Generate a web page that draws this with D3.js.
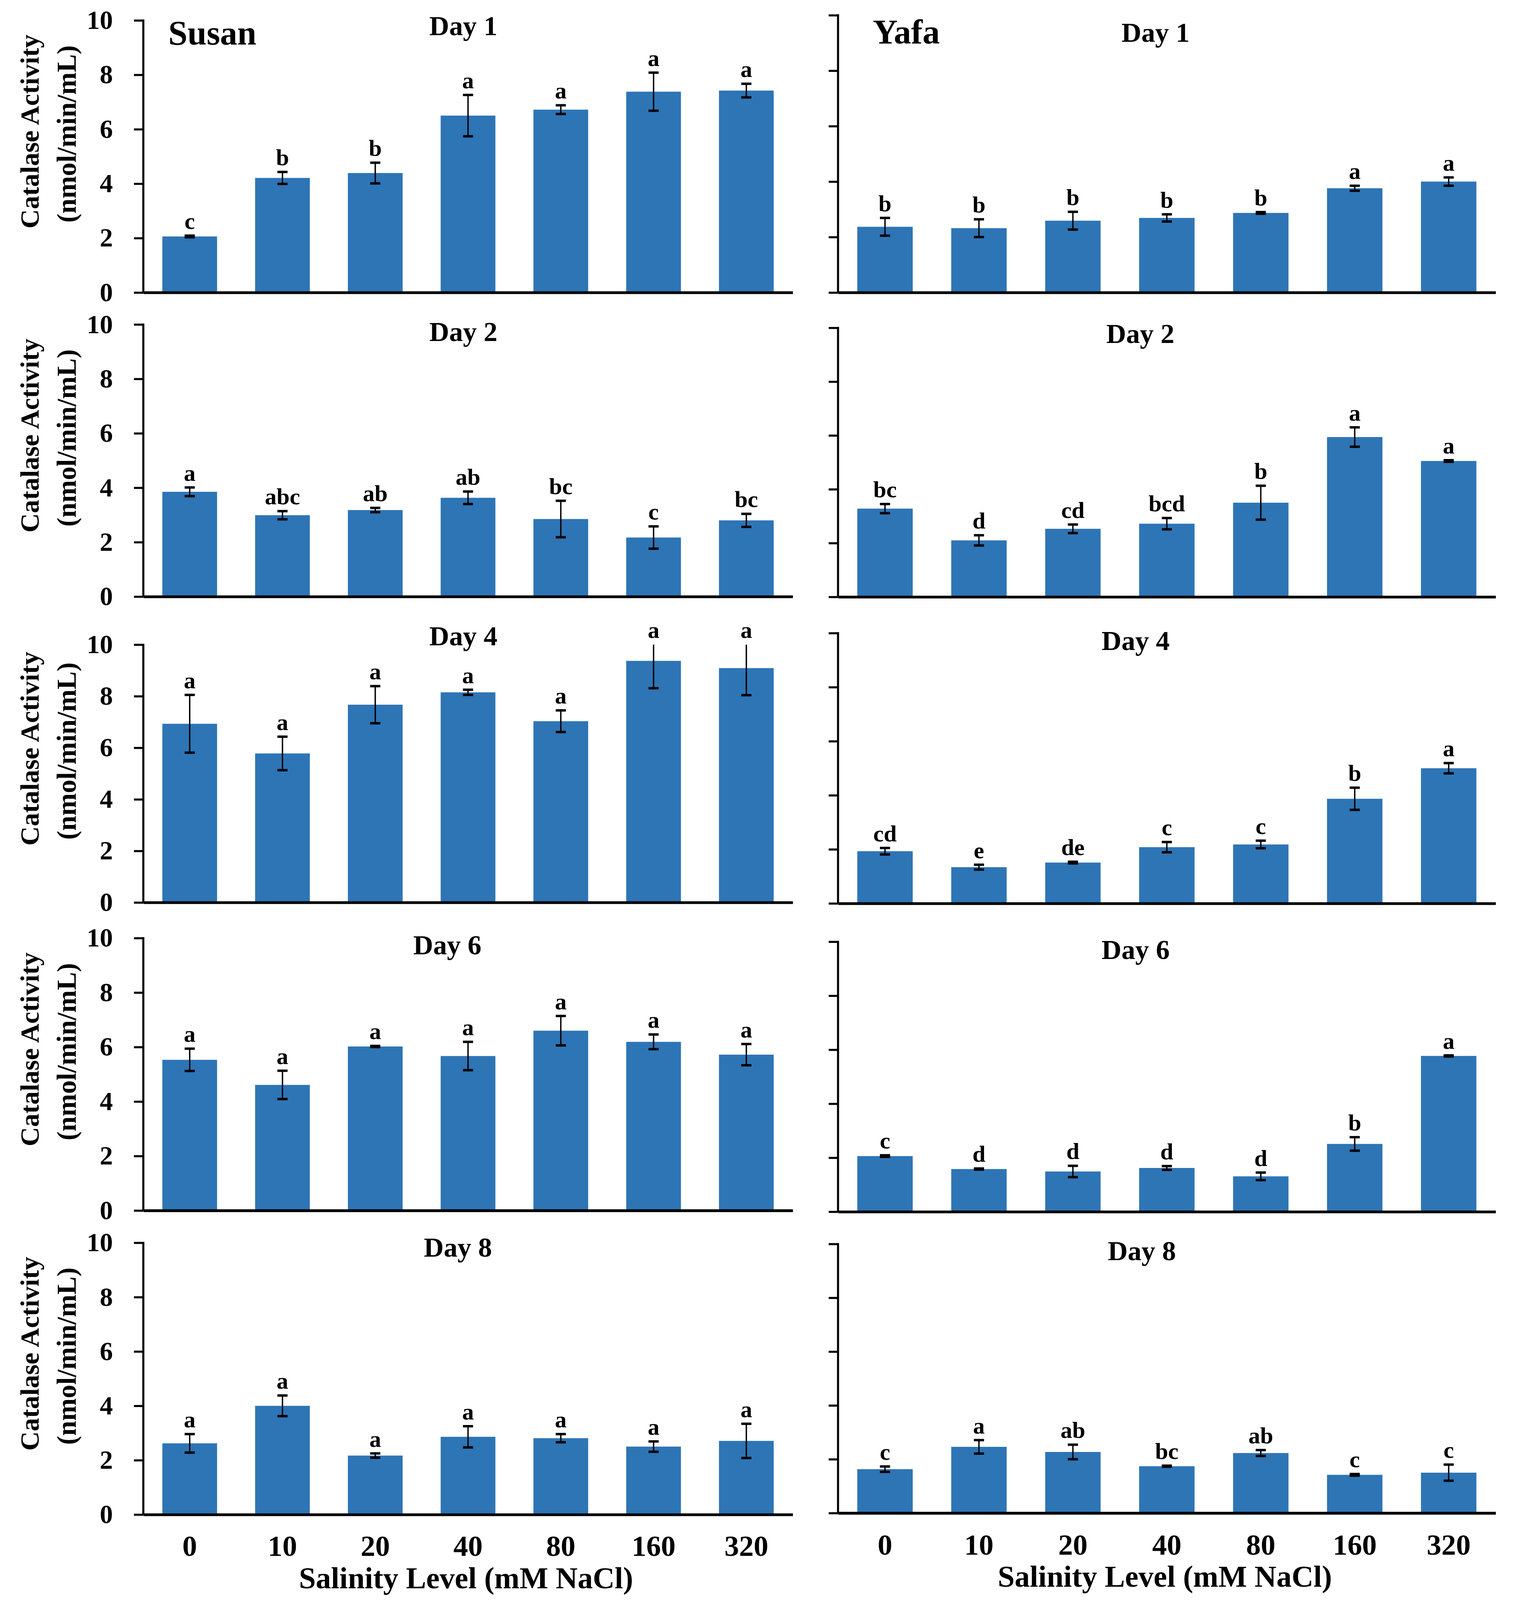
<!DOCTYPE html>
<html>
<head>
  <meta charset="UTF-8">
  <title>Catalase activity</title>
  <script src="https://cdnjs.cloudflare.com/ajax/libs/d3/7.8.5/d3.min.js"></script>
  <style type="text/css">
    html, body { margin: 0; padding: 0; background: #fff; overflow: hidden; }
    svg { display: block; }
    text { font-family: "Liberation Serif", "Times New Roman", serif; font-weight: bold; fill: #000; }
  </style>
</head>
<body>
<script type="text/javascript">

  // categories and panel names
  var salinity = ["0", "10", "20", "40", "80", "160", "320"];
  var days = ["Day 1", "Day 2", "Day 4", "Day 6", "Day 8"];
  var cultivars = ["Susan", "Yafa"];
  var yTicks = [0, 2, 4, 6, 8, 10];

  // Susan: mean, error, letters (one row per day)
  var susanMean = [
    [2.06, 4.21, 4.39, 6.50, 6.72, 7.38, 7.42],
    [3.85, 2.99, 3.18, 3.63, 2.85, 2.17, 2.80],
    [6.93, 5.78, 7.67, 8.15, 7.03, 9.37, 9.09],
    [5.53, 4.61, 6.02, 5.67, 6.60, 6.19, 5.72],
    [2.62, 4.00, 2.17, 2.86, 2.81, 2.50, 2.71]
  ];
  var susanErr = [
    [0.03, 0.22, 0.38, 0.76, 0.16, 0.70, 0.25],
    [0.16, 0.15, 0.08, 0.23, 0.67, 0.41, 0.24],
    [1.12, 0.65, 0.72, 0.10, 0.42, 1.06, 1.05],
    [0.41, 0.52, 0.02, 0.52, 0.54, 0.27, 0.39],
    [0.34, 0.38, 0.08, 0.39, 0.15, 0.19, 0.63]
  ];
  var susanLetters = [
    ["c", "b", "b", "a", "a", "a", "a"],
    ["a", "abc", "ab", "ab", "bc", "c", "bc"],
    ["a", "a", "a", "a", "a", "a", "a"],
    ["a", "a", "a", "a", "a", "a", "a"],
    ["a", "a", "a", "a", "a", "a", "a"]
  ];

  // Yafa
  var yafaMean = [
    [2.37, 2.32, 2.59, 2.69, 2.87, 3.76, 4.00],
    [3.28, 2.10, 2.53, 2.72, 3.50, 5.94, 5.05],
    [1.93, 1.34, 1.51, 2.08, 2.18, 3.87, 5.00],
    [2.06, 1.58, 1.49, 1.62, 1.31, 2.51, 5.77],
    [1.63, 2.46, 2.27, 1.74, 2.23, 1.42, 1.50]
  ];
  var yafaErr = [
    [0.32, 0.32, 0.32, 0.13, 0.03, 0.09, 0.15],
    [0.17, 0.19, 0.16, 0.21, 0.63, 0.36, 0.03],
    [0.12, 0.09, 0.03, 0.19, 0.14, 0.41, 0.19],
    [0.03, 0.02, 0.21, 0.07, 0.14, 0.25, 0.02],
    [0.10, 0.25, 0.27, 0.02, 0.11, 0.03, 0.30]
  ];
  var yafaLetters = [
    ["b", "b", "b", "b", "b", "a", "a"],
    ["bc", "d", "cd", "bcd", "b", "a", "a"],
    ["cd", "e", "de", "c", "c", "b", "a"],
    ["c", "d", "d", "d", "d", "b", "a"],
    ["c", "a", "ab", "bc", "ab", "c", "c"]
  ];

  var means = [susanMean, yafaMean];
  var errs = [susanErr, yafaErr];
  var letters = [susanLetters, yafaLetters];

  // layout in reference pixels (3877 x 5262 page)
  var colX = [[367, 2030], [2146, 3830]];
  var rowTop = [[67, 1067, 2120, 3085, 4087], [50, 1078, 2082, 3097, 4091]];
  var rowBot = [[962, 1962, 2968, 3981, 4981], [962, 1963, 2971, 3985, 4976]];
  // day-title placement: [dx from plot centre, baseline below top]
  var titlePos = [
    [[-12, 48], [-12, 55], [-12, 2], [-53, 53], [-26, 46]],
    [[-29, 88], [-68, 50], [-80, 56], [-80, 57], [-64, 53]]
  ];

  var W = 3877, H = 5262;
  var barColor = "#2E75B6";

  // fit the layout to whatever viewport we get, keeping text undistorted
  var vw = window.innerWidth || W, vh = window.innerHeight || H;
  var sx = vw / W, sy = vh / H, fs = Math.sqrt(sx * sy);
  function X(v) { return v * sx; }
  function Y(v) { return v * sy; }
  function px(v) { return (v * fs) + "px"; }

  var svg = d3.select("body").append("svg")
      .attr("width", vw)
      .attr("height", vh);

  svg.append("rect")
      .attr("width", vw).attr("height", vh)
      .attr("fill", "#fff");

  cultivars.forEach(function (cv, c) {
    days.forEach(function (day, r) {
      var x0 = X(colX[c][0]), x1 = X(colX[c][1]);
      var top = Y(rowTop[c][r]), bot = Y(rowBot[c][r]);

      var x = d3.scaleBand()
          .domain(salinity)
          .range([x0, x1])
          .paddingInner(0.41)
          .paddingOuter(0.205);

      var y = d3.scaleLinear()
          .domain([0, 10])
          .range([bot, top]);

      var g = svg.append("g");

      var rows = salinity.map(function (s, i) {
        return { s: s, m: means[c][r][i], e: errs[c][r][i], l: letters[c][r][i] };
      });

      // bars
      g.selectAll("rect.bar")
        .data(rows)
        .enter().append("rect")
          .attr("class", "bar")
          .attr("x", function (d) { return x(d.s); })
          .attr("width", x.bandwidth())
          .attr("y", function (d) { return y(d.m); })
          .attr("height", function (d) { return y(0) - y(d.m); })
          .attr("fill", barColor);

      // error bars (clipped at axis max, no cap when clipped)
      var cap = 13 * sx;
      var eb = g.selectAll("g.err")
        .data(rows)
        .enter().append("g")
          .attr("class", "err")
          .attr("transform", function (d) { return "translate(" + (x(d.s) + x.bandwidth() / 2) + ",0)"; });

      eb.append("line")
          .attr("y1", function (d) { return y(Math.min(d.m + d.e, 10)); })
          .attr("y2", function (d) { return y(d.m - d.e); })
          .attr("stroke", "#000")
          .attr("stroke-width", 4 * fs);

      eb.filter(function (d) { return d.m + d.e <= 10; })
        .append("line")
          .attr("x1", -cap).attr("x2", cap)
          .attr("y1", function (d) { return y(d.m + d.e); })
          .attr("y2", function (d) { return y(d.m + d.e); })
          .attr("stroke", "#000")
          .attr("stroke-width", 7 * fs);

      eb.append("line")
          .attr("x1", -cap).attr("x2", cap)
          .attr("y1", function (d) { return y(d.m - d.e); })
          .attr("y2", function (d) { return y(d.m - d.e); })
          .attr("stroke", "#000")
          .attr("stroke-width", 7 * fs);

      // significance letters
      g.selectAll("text.letter")
        .data(rows)
        .enter().append("text")
          .attr("class", "letter")
          .attr("x", function (d) { return x(d.s) + x.bandwidth() / 2; })
          .attr("y", function (d) { return y(Math.min(d.m + d.e, 10)) - 22 * sy; })
          .attr("text-anchor", "middle")
          .style("font-size", px(68))
          .text(function (d) { return d.l; });

      // y axis
      var yAxis = d3.axisLeft(y)
          .tickValues(yTicks)
          .tickSize(24 * sx)
          .tickPadding(54 * sx)
          .tickFormat(c === 0 ? d3.format("d") : function () { return ""; });

      var ya = g.append("g")
          .attr("transform", "translate(" + x0 + ",0)")
          .call(yAxis);
      ya.select(".domain").remove();
      ya.selectAll(".tick line").attr("stroke", "#000").attr("stroke-width", 6 * fs);
      ya.selectAll(".tick text")
          .style("font-size", px(76))
          .style("font-family", "'Liberation Serif', serif")
          .style("font-weight", "bold")
          .attr("fill", "#000");
      g.append("line")
          .attr("x1", x0).attr("x2", x0)
          .attr("y1", top - 3 * sy).attr("y2", bot)
          .attr("stroke", "#000").attr("stroke-width", 6 * fs);

      // x axis baseline
      var xAxis = d3.axisBottom(x).tickSize(0).tickPadding(68 * sy);
      var xa = g.append("g")
          .attr("transform", "translate(0," + bot + ")")
          .call(xAxis);
      xa.select(".domain").attr("stroke", "#000").attr("stroke-width", 8 * fs);
      if (r === days.length - 1) {
        xa.selectAll(".tick text")
            .style("font-size", px(85))
            .style("font-family", "'Liberation Serif', serif")
            .style("font-weight", "bold")
            .attr("fill", "#000");
        g.append("text")
            .attr("x", (x0 + x1) / 2 - 5 * sx)
            .attr("y", bot + 242 * sy)
            .attr("text-anchor", "middle")
            .style("font-size", px(88))
            .text("Salinity Level (mM NaCl)");
      } else {
        xa.selectAll(".tick text").remove();
      }

      // day title
      g.append("text")
          .attr("x", (x0 + x1) / 2 + titlePos[c][r][0] * sx)
          .attr("y", top + titlePos[c][r][1] * sy)
          .attr("text-anchor", "middle")
          .style("font-size", px(80))
          .text(day);

      // y title on left column (its length runs vertically, so size it by sy)
      if (c === 0) {
        var cy = (top + bot) / 2 - 82 * sy;
        g.append("text")
            .attr("transform", "translate(" + X(76) + "," + cy + ") rotate(-90)")
            .attr("text-anchor", "middle")
            .attr("dominant-baseline", "central")
            .style("font-size", (88 * sy) + "px")
            .text("Catalase Activity");
        g.append("text")
            .attr("transform", "translate(" + X(170) + "," + (cy + 8 * sy) + ") rotate(-90)")
            .attr("text-anchor", "middle")
            .attr("dominant-baseline", "central")
            .style("font-size", (89 * sy) + "px")
            .text("(nmol/min/mL)");
      }

      // cultivar name on first row
      if (r === 0) {
        g.append("text")
            .attr("x", X(c === 0 ? 431 : 2235))
            .attr("y", top + (c === 0 ? 80 : 92) * sy)
            .style("font-size", px(100))
            .text(cv);
      }
    });
  });

</script>
</body>
</html>
